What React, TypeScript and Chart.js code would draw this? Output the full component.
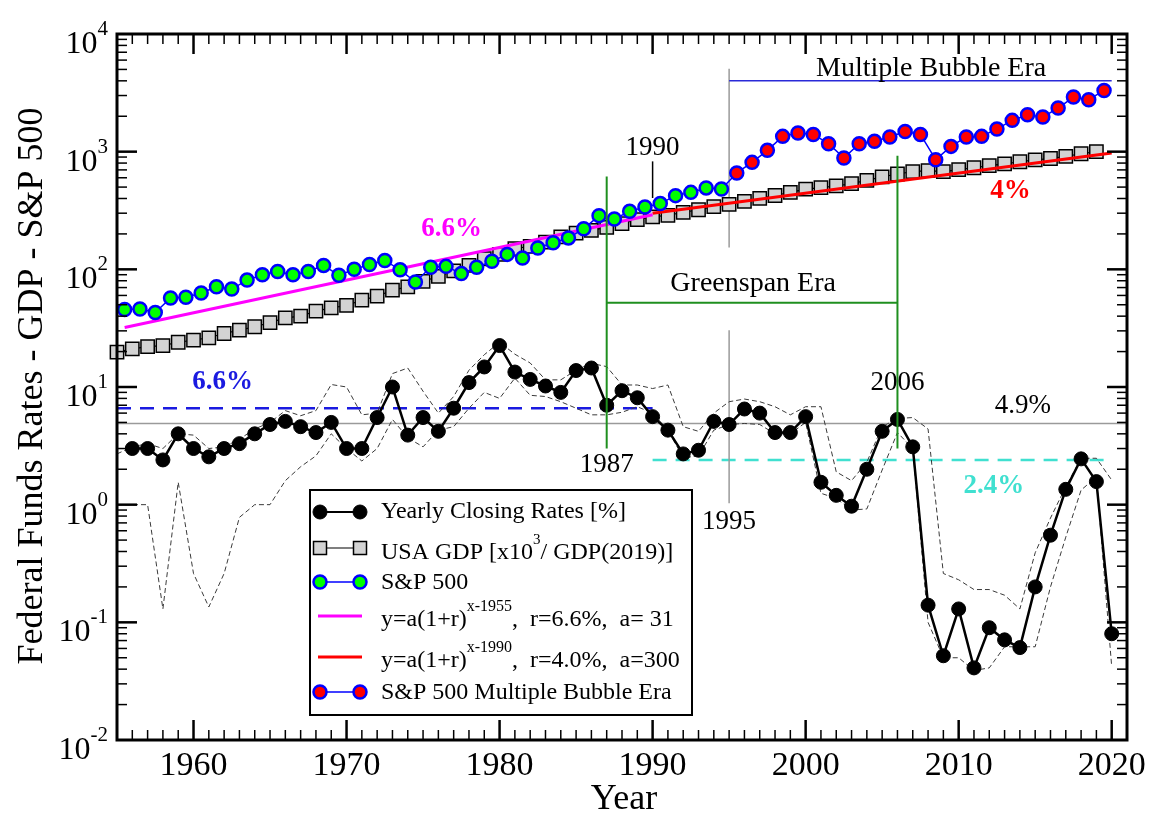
import React, { useEffect, useRef } from "react";
import { Chart, registerables } from "chart.js";

Chart.register(...registerables);

const SERIF = '"Liberation Serif", "Times New Roman", Times, serif';

// ---- axes ----
const X_MIN = 1955;
const X_MAX = 2021;
const Y_MIN = 0.01;
const Y_MAX = 10000;
const X_MAJOR_TICKS = [1960, 1970, 1980, 1990, 2000, 2010, 2020];
const Y_DECADES = [-2, -1, 0, 1, 2, 3, 4];

// ---- Federal funds yearly closing rates [%] ----
const fedYears = [
  1956, 1957, 1958, 1959, 1960, 1961, 1962, 1963, 1964, 1965,
  1966, 1967, 1968, 1969, 1970, 1971, 1972, 1973, 1974, 1975,
  1976, 1977, 1978, 1979, 1980, 1981, 1982, 1983, 1984, 1985,
  1986, 1987, 1988, 1989, 1990, 1991, 1992, 1993, 1994, 1995,
  1996, 1997, 1998, 1999, 2000, 2001, 2002, 2003, 2004, 2005,
  2006, 2007, 2008, 2009, 2010, 2011, 2012, 2013, 2014, 2015,
  2016, 2017, 2018, 2019, 2020,
];
const fedRates = [
  3.0, 3.0, 2.4, 4.0, 3.0, 2.55, 3.0, 3.3, 4.0, 4.8,
  5.1, 4.6, 4.1, 5.0, 3.0, 3.0, 5.5, 10.0, 3.9, 5.5,
  4.2, 6.6, 10.9, 14.8, 22.5, 13.4, 11.6, 10.2, 9.0, 13.8,
  14.5, 7.0, 9.3, 8.1, 5.6, 4.3, 2.7, 2.9, 5.1, 4.8,
  6.5, 6.0, 4.1, 4.1, 5.6, 1.55, 1.2, 0.97, 2.0, 4.2,
  5.3, 3.1, 0.14, 0.052, 0.13, 0.041, 0.09, 0.071, 0.061, 0.2,
  0.55, 1.35, 2.45, 1.57, 0.08,
];

// ---- yearly high / low envelopes (thin dashed) ----
const rangeYears = [
  1955, 1956, 1957, 1958, 1959, 1960, 1961, 1962, 1963, 1964,
  1965, 1966, 1967, 1968, 1969, 1970, 1971, 1972, 1973, 1974,
  1975, 1976, 1977, 1978, 1979, 1980, 1981, 1982, 1983, 1984,
  1985, 1986, 1987, 1988, 1989, 1990, 1991, 1992, 1993, 1994,
  1995, 1996, 1997, 1998, 1999, 2000, 2001, 2002, 2003, 2004,
  2005, 2006, 2007, 2008, 2009, 2010, 2011, 2012, 2013, 2014,
  2015, 2016, 2017, 2018, 2019, 2020,
];
const fedHigh = [
  2.7, 3.1, 3.3, 3.0, 4.0, 3.9, 3.0, 3.1, 3.6, 4.4,
  5.0, 6.3, 5.7, 6.3, 10.5, 10.0, 5.8, 6.0, 13.0, 14.5,
  9.2, 6.0, 8.3, 13.9, 18.8, 24.0, 19.0, 16.0, 11.5, 11.5,
  13.9, 15.9, 14.9, 10.4, 10.4, 9.7, 10.4, 4.6, 4.2, 6.0,
  7.5, 7.9, 7.5, 6.8, 5.8, 6.8, 6.8, 1.9, 1.6, 2.3,
  4.6, 5.4, 5.5, 4.4, 0.26, 0.23, 0.19, 0.19, 0.17, 0.13,
  0.39, 0.77, 1.42, 2.48, 2.48, 1.62,
];
const fedLow = [
  1.0, 1.0, 1.0, 0.13, 1.55, 0.26, 0.135, 0.26, 0.78, 1.0,
  1.0, 1.6, 2.1, 2.6, 4.0, 3.0, 2.35, 3.0, 5.3, 3.7,
  3.1, 4.3, 4.6, 6.6, 9.0, 8.0, 11.9, 8.5, 8.3, 7.5,
  6.6, 5.8, 5.8, 6.1, 6.8, 6.0, 4.3, 2.5, 2.6, 4.3,
  4.8, 4.9, 4.8, 4.0, 4.0, 5.0, 1.25, 1.13, 0.9, 0.92,
  1.97, 4.1, 3.0, 0.1, 0.05, 0.05, 0.039, 0.041, 0.062, 0.062,
  0.062, 0.2, 0.53, 1.33, 1.72, 0.042,
];

// ---- USA GDP [x1000 / GDP(2019)] ----
const gdpYears = [
  1955, 1956, 1957, 1958, 1959, 1960, 1961, 1962, 1963, 1964,
  1965, 1966, 1967, 1968, 1969, 1970, 1971, 1972, 1973, 1974,
  1975, 1976, 1977, 1978, 1979, 1980, 1981, 1982, 1983, 1984,
  1985, 1986, 1987, 1988, 1989, 1990, 1991, 1992, 1993, 1994,
  1995, 1996, 1997, 1998, 1999, 2000, 2001, 2002, 2003, 2004,
  2005, 2006, 2007, 2008, 2009, 2010, 2011, 2012, 2013, 2014,
  2015, 2016, 2017, 2018, 2019,
];
const gdpValues = [
  19.8, 21.1, 22.0, 22.5, 24.0, 25.0, 26.2, 28.5, 30.4, 32.5,
  35.2, 38.7, 40.0, 44.1, 47.1, 49.3, 54.7, 59.1, 66.5, 71.0,
  79.0, 87.0, 97.0, 108, 123, 134, 150, 157, 170, 189,
  203, 214, 227, 245, 264, 279, 288, 305, 321, 341,
  357, 378, 401, 424, 451, 480, 495, 511, 536, 571,
  610, 646, 677, 691, 677, 704, 730, 760, 788, 821,
  852, 875, 911, 960, 1000,
];

// ---- S&P 500 (plotted at mid-year) ----
const SP_MID_YEAR = 0.5;
const BUBBLE_START = 1995;
const spYears = [
  1955, 1956, 1957, 1958, 1959, 1960, 1961, 1962, 1963, 1964,
  1965, 1966, 1967, 1968, 1969, 1970, 1971, 1972, 1973, 1974,
  1975, 1976, 1977, 1978, 1979, 1980, 1981, 1982, 1983, 1984,
  1985, 1986, 1987, 1988, 1989, 1990, 1991, 1992, 1993, 1994,
  1995, 1996, 1997, 1998, 1999, 2000, 2001, 2002, 2003, 2004,
  2005, 2006, 2007, 2008, 2009, 2010, 2011, 2012, 2013, 2014,
  2015, 2016, 2017, 2018, 2019,
];
const spValues = [
  45.5, 46, 43, 57, 58, 63, 71, 68, 81, 90,
  96, 90, 96, 108, 89, 100, 110, 119, 99, 78,
  104, 106, 92, 104, 117, 134, 125, 152, 168, 185,
  221, 286, 268, 311, 339, 362, 423, 451, 492, 482,
  659, 811, 1026, 1349, 1442, 1400, 1169, 884, 1169, 1224,
  1333, 1486, 1400, 855, 1109, 1333, 1349, 1560, 1845, 2061,
  1969, 2350, 2913, 2762, 3315,
];

// ---- exponential fits (straight on log axis: end points) ----
const fit66X = [1955.5, 1990];
const fit66Y = [32, 291];
const fit40X = [1990, 2020];
const fit40Y = [300, 973];

// ---- reference levels ----
const AVG_RATE = 4.9;
const PRE_RATE = 6.6;
const POST_RATE = 2.4;

const GREEN = "#1f8f1f";
const CYAN = "#40e0d0";
const BLUE_DASH = "#1a1ae0";

function pts(xs: number[], ys: number[], dx = 0) {
  return xs.map((x, i) => ({ x: x + dx, y: ys[i] }));
}

const greenIdx = spYears.map((y, i) => i).filter((i) => spYears[i] <= BUBBLE_START);
const redIdx = spYears.map((y, i) => i).filter((i) => spYears[i] >= BUBBLE_START);

function drawTextAt(ctx: CanvasRenderingContext2D, s: string, x: number, y: number, font: string, color: string, align: CanvasTextAlign = "center") {
  ctx.font = font;
  ctx.fillStyle = color;
  ctx.textAlign = align;
  ctx.textBaseline = "alphabetic";
  ctx.fillText(s, x, y);
}

function rich(ctx: CanvasRenderingContext2D, parts: [string, boolean][], x: number, y: number, size: number, supSize: number, raise: number) {
  let cx = x;
  ctx.textAlign = "left";
  ctx.textBaseline = "alphabetic";
  ctx.fillStyle = "#000";
  for (const [s, sup] of parts) {
    ctx.font = `${sup ? supSize : size}px ${SERIF}`;
    ctx.fillText(s, cx, sup ? y - raise : y);
    cx += ctx.measureText(s).width;
  }
}

function line(ctx: CanvasRenderingContext2D, x1: number, y1: number, x2: number, y2: number, color: string, w: number, dash: number[] = []) {
  ctx.save();
  ctx.strokeStyle = color;
  ctx.lineWidth = w;
  ctx.setLineDash(dash);
  ctx.beginPath();
  ctx.moveTo(x1, y1);
  ctx.lineTo(x2, y2);
  ctx.stroke();
  ctx.restore();
}

function circle(ctx: CanvasRenderingContext2D, x: number, y: number, r: number, fill: string, stroke: string, w: number) {
  ctx.beginPath();
  ctx.arc(x, y, r, 0, Math.PI * 2);
  ctx.fillStyle = fill;
  ctx.fill();
  ctx.lineWidth = w;
  ctx.strokeStyle = stroke;
  ctx.stroke();
}

const decorPlugin = {
  id: "decor",
  beforeDatasetsDraw(chart: any) {
    const { ctx, chartArea: a, scales } = chart;
    const X = (v: number) => scales.x.getPixelForValue(v);
    const Y = (v: number) => scales.y.getPixelForValue(v);
    ctx.save();
    // 4.9% average line
    line(ctx, a.left, Y(AVG_RATE), a.right, Y(AVG_RATE), "#9a9a9a", 1.5);
    // 6.6% and 2.4% dashed levels
    line(ctx, X(1955), Y(PRE_RATE), X(1990), Y(PRE_RATE), BLUE_DASH, 2.5, [14, 9]);
    line(ctx, X(1990), Y(POST_RATE), X(2020), Y(POST_RATE), CYAN, 2.5, [14, 9]);
    // 1995 gray markers
    line(ctx, X(1995), Y(5070), X(1995), Y(153), "#9a9a9a", 1.5);
    line(ctx, X(1995), Y(30.3), X(1995), Y(1.03), "#9a9a9a", 1.5);
    // Multiple bubble era bar
    line(ctx, X(1995), Y(4000), X(2020), Y(4000), "#2a2ad8", 1.5);
    // 1990 pointer
    line(ctx, X(1990), Y(827), X(1990), Y(404), "#000", 1.5);
    ctx.restore();
  },
  afterDatasetsDraw(chart: any) {
    const { ctx, chartArea: a, scales } = chart;
    const X = (v: number) => scales.x.getPixelForValue(v);
    const Y = (v: number) => scales.y.getPixelForValue(v);
    ctx.save();
    // Greenspan era bracket
    line(ctx, X(1987), Y(614), X(1987), Y(3.0), GREEN, 2);
    line(ctx, X(2006), Y(925), X(2006), Y(3.0), GREEN, 2);
    line(ctx, X(1987), Y(52), X(2006), Y(52), GREEN, 2);

    // frame
    ctx.strokeStyle = "#000";
    ctx.lineWidth = 3;
    ctx.strokeRect(a.left, a.top, a.right - a.left, a.bottom - a.top);

    // x ticks (bottom & top, inward)
    for (let yr = X_MIN + 1; yr < X_MAX; yr++) {
      const major = X_MAJOR_TICKS.includes(yr);
      const len = major ? 20 : 10;
      const w = major ? 2.5 : 1.5;
      const x = X(yr);
      line(ctx, x, a.bottom, x, a.bottom - len, "#000", w);
      line(ctx, x, a.top, x, a.top + len, "#000", w);
    }
    // y ticks (left & right, inward)
    for (const e of Y_DECADES) {
      for (let m = 1; m <= 9; m++) {
        const v = m * Math.pow(10, e);
        if (v <= Y_MIN || v >= Y_MAX) continue;
        const major = m === 1;
        const len = major ? 20 : 10;
        const w = major ? 2.5 : 1.5;
        const y = Y(v);
        line(ctx, a.left, y, a.left + len, y, "#000", w);
        line(ctx, a.right, y, a.right - len, y, "#000", w);
      }
    }

    // annotations text
    const f27 = `27px ${SERIF}`;
    const f28 = `28px ${SERIF}`;
    const b27 = `bold 27px ${SERIF}`;
    drawTextAt(ctx, "Multiple Bubble Era", X(2008.2), Y(4417), f28, "#000");
    drawTextAt(ctx, "1990", X(1990), Y(944), f27, "#000");
    drawTextAt(ctx, "Greenspan Era", X(1996.57), Y(65.2), f28, "#000");
    drawTextAt(ctx, "1987", X(1987), Y(1.9), f27, "#000");
    drawTextAt(ctx, "1995", X(1995), Y(0.618), f27, "#000");
    drawTextAt(ctx, "2006", X(2006), Y(9.35), f27, "#000");
    drawTextAt(ctx, "4.9%", X(2014.2), Y(5.97), f27, "#000");
    drawTextAt(ctx, "6.6%", X(1961.9), Y(9.54), b27, "#1a1ae0");
    drawTextAt(ctx, "2.4%", X(2012.3), Y(1.25), b27, CYAN);
    drawTextAt(ctx, "6.6%", X(1976.86), Y(193.6), b27, "#ff00ff");
    drawTextAt(ctx, "4%", X(2013.38), Y(407), b27, "#ff0000");
    ctx.restore();
  },
  afterDraw(chart: any) {
    const { ctx, chartArea: a, scales } = chart;
    const X = (v: number) => scales.x.getPixelForValue(v);
    const Y = (v: number) => scales.y.getPixelForValue(v);
    ctx.save();
    // x tick labels
    for (const yr of X_MAJOR_TICKS) {
      drawTextAt(ctx, String(yr), X(yr), a.bottom + 35, `34px ${SERIF}`, "#000");
    }
    // y tick labels 10^e
    for (const e of Y_DECADES) {
      const y = Y(Math.pow(10, e));
      const sup = String(e);
      ctx.font = `21px ${SERIF}`;
      const ws = ctx.measureText(sup).width;
      ctx.font = `32px ${SERIF}`;
      const wb = ctx.measureText("10").width;
      const right = a.left - 9;
      drawTextAt(ctx, "10", right - ws - wb, y + 19, `32px ${SERIF}`, "#000", "left");
      drawTextAt(ctx, sup, right - ws, y + 1, `21px ${SERIF}`, "#000", "left");
    }
    // axis titles
    drawTextAt(ctx, "Year", (a.left + a.right) / 2 + 2, 809, `36px ${SERIF}`, "#000");
    ctx.save();
    ctx.translate(42, 386);
    ctx.rotate(-Math.PI / 2);
    drawTextAt(ctx, "Federal Funds Rates - GDP - S&P 500", 0, 0, `36px ${SERIF}`, "#000");
    ctx.restore();

    // legend
    const L = { x0: 310, y0: 490, x1: 692, y1: 715 };
    ctx.fillStyle = "#fff";
    ctx.fillRect(L.x0, L.y0, L.x1 - L.x0, L.y1 - L.y0);
    ctx.strokeStyle = "#000";
    ctx.lineWidth = 2;
    ctx.strokeRect(L.x0, L.y0, L.x1 - L.x0, L.y1 - L.y0);
    const sx0 = 320, sx1 = 360, tx = 381;
    const f24 = `24px ${SERIF}`;
    // row 1
    line(ctx, sx0, 512, sx1, 512, "#000", 2);
    circle(ctx, sx0, 512, 7, "#000", "#000", 1);
    circle(ctx, sx1, 512, 7, "#000", "#000", 1);
    drawTextAt(ctx, "Yearly Closing Rates [%]", tx, 518, f24, "#000", "left");
    // row 2
    line(ctx, sx0, 548, sx1, 548, "#000", 1.2);
    for (const sx of [sx0, sx1]) {
      ctx.fillStyle = "#d3d3d3";
      ctx.fillRect(sx - 6.5, 548 - 6.5, 13, 13);
      ctx.lineWidth = 1.5;
      ctx.strokeStyle = "#000";
      ctx.strokeRect(sx - 6.5, 548 - 6.5, 13, 13);
    }
    rich(ctx, [["USA GDP [x10", false], ["3", true], ["/ GDP(2019)]", false]], tx, 559, 24, 15, 15);
    // row 3
    line(ctx, sx0, 582, sx1, 582, "#0000ff", 1.5);
    circle(ctx, sx0, 582, 6.5, "#00ff00", "#0000ff", 2.5);
    circle(ctx, sx1, 582, 6.5, "#00ff00", "#0000ff", 2.5);
    drawTextAt(ctx, "S&P 500", tx, 589, f24, "#000", "left");
    // row 4
    line(ctx, 318, 616, 362, 616, "#ff00ff", 3);
    rich(ctx, [["y=a(1+r)", false], ["x-1955", true], [",  r=6.6%,  a= 31", false]], tx, 626, 24, 16, 15);
    // row 5
    line(ctx, 318, 657, 362, 657, "#ff0000", 3);
    rich(ctx, [["y=a(1+r)", false], ["x-1990", true], [",  r=4.0%,  a=300", false]], tx, 667, 24, 16, 15);
    // row 6
    line(ctx, sx0, 692, sx1, 692, "#0000ff", 1.5);
    circle(ctx, sx0, 692, 6.5, "#ff0000", "#0000ff", 2.5);
    circle(ctx, sx1, 692, 6.5, "#ff0000", "#0000ff", 2.5);
    drawTextAt(ctx, "S&P 500 Multiple Bubble Era", tx, 699, f24, "#000", "left");
    ctx.restore();
  },
};

export default function App() {
  const ref = useRef<HTMLCanvasElement>(null);
  useEffect(() => {
    const canvas = ref.current;
    if (!canvas) return;
    const chart = new Chart(canvas, {
      type: "line",
      data: {
        datasets: [
          {
            label: "S&P 500 Multiple Bubble Era",
            data: redIdx.map((i) => ({ x: spYears[i] + SP_MID_YEAR, y: spValues[i] })),
            borderColor: "#0000ff",
            borderWidth: 1.5,
            pointRadius: 6.5,
            pointBorderWidth: 2.5,
            pointBackgroundColor: "#ff0000",
            pointBorderColor: "#0000ff",
            order: 0,
            clip: false,
            fill: false,
          },
          {
            label: "S&P 500",
            data: greenIdx.map((i) => ({ x: spYears[i] + SP_MID_YEAR, y: spValues[i] })),
            borderColor: "#0000ff",
            borderWidth: 1.5,
            pointRadius: (c: any) => (spYears[greenIdx[c.dataIndex]] < BUBBLE_START ? 6.5 : 0),
            pointBorderWidth: 2.5,
            pointBackgroundColor: "#00ff00",
            pointBorderColor: "#0000ff",
            order: 1,
            clip: false,
            fill: false,
          },
          {
            label: "fit 6.6%",
            data: pts(fit66X, fit66Y),
            borderColor: "#ff00ff",
            borderWidth: 3,
            pointRadius: 0,
            order: 2,
            clip: false,
            fill: false,
          },
          {
            label: "fit 4.0%",
            data: pts(fit40X, fit40Y),
            borderColor: "#ff0000",
            borderWidth: 3,
            pointRadius: 0,
            order: 3,
            clip: false,
            fill: false,
          },
          {
            label: "USA GDP",
            data: pts(gdpYears, gdpValues),
            borderColor: "#000",
            borderWidth: 1.2,
            pointStyle: "rect",
            pointRadius: 9.4,
            pointBorderWidth: 1.5,
            pointBackgroundColor: "#d3d3d3",
            pointBorderColor: "#000",
            order: 4,
            clip: false,
            fill: false,
          },
          {
            label: "Yearly Closing Rates [%]",
            data: pts(fedYears, fedRates),
            borderColor: "#000",
            borderWidth: 2.5,
            pointRadius: 7,
            pointBorderWidth: 1,
            pointBackgroundColor: "#000",
            pointBorderColor: "#000",
            order: 5,
            clip: false,
            fill: false,
          },
          {
            label: "high",
            data: pts(rangeYears, fedHigh),
            borderColor: "#3a3a3a",
            borderWidth: 1,
            borderDash: [5, 3],
            pointRadius: 0,
            order: 6,
            clip: false,
            fill: false,
          },
          {
            label: "low",
            data: pts(rangeYears, fedLow),
            borderColor: "#3a3a3a",
            borderWidth: 1,
            borderDash: [5, 3],
            pointRadius: 0,
            order: 7,
            clip: false,
            fill: false,
          },
        ],
      },
      options: {
        responsive: false,
        animation: false,
        events: [],
        layout: { padding: { left: 117, right: 26, top: 34, bottom: 74 } },
        scales: {
          x: { type: "linear", min: X_MIN, max: X_MAX, display: false },
          y: { type: "logarithmic", min: Y_MIN, max: Y_MAX, display: false },
        },
        plugins: { legend: { display: false }, tooltip: { enabled: false } },
      },
      plugins: [decorPlugin],
    } as any);
    return () => chart.destroy();
  }, []);
  return (
    <div style={{ position: "fixed", left: 0, top: 0, width: 1153, height: 814, background: "#fff" }}>
      <canvas ref={ref} width={1153} height={814} style={{ display: "block" }} />
    </div>
  );
}
